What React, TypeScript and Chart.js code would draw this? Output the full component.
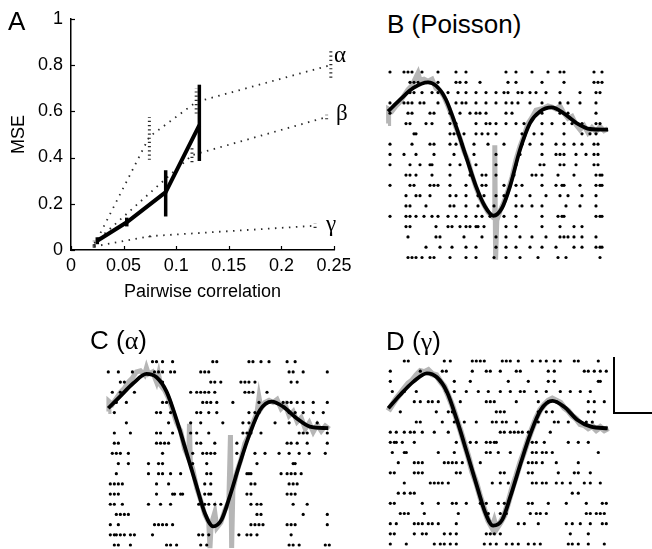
import React, { useEffect, useRef } from "react";
import { Chart, registerables } from "chart.js";
Chart.register(...registerables);
Chart.defaults.font.family = "'Liberation Sans', Arial, sans-serif";
Chart.defaults.color = "#000";

// ---------- Panel A data ----------
const corrTicks = [0, 0.05, 0.1, 0.15, 0.2, 0.25];
const mseTicks = [0, 0.2, 0.4, 0.6, 0.8, 1];
const mainX = [0.025, 0.053, 0.09, 0.122];
const mainY = [0.04, 0.12, 0.25, 0.54];
const mainLo = [0.025, 0.102, 0.145, 0.385];
const mainHi = [0.055, 0.14, 0.345, 0.715];
const alphaX = [0.022, 0.0745, 0.119, 0.247];
const alphaY = [0.02, 0.49, 0.64, 0.8];
const alphaLo = [0.015, 0.39, 0.59, 0.745];
const alphaHi = [0.03, 0.575, 0.7, 0.86];
const betaX = [0.022, 0.115, 0.243];
const betaY = [0.03, 0.41, 0.575];
const betaLo = [0.02, 0.38, 0.565];
const betaHi = [0.04, 0.44, 0.585];
const gammaX = [0.022, 0.075, 0.232];
const gammaY = [0.015, 0.06, 0.105];
const gammaLo = [0.01, 0.055, 0.095];
const gammaHi = [0.02, 0.065, 0.115];

// ---------- Raster panels (time 0..110, trial rows 1..19) ----------
const rasterB = [
  [1, 8, 10, 12, 17, 25, 34, 39, 59, 64, 72, 80, 86, 88, 103, 107],
  [11, 13, 15, 20, 25, 34, 36, 39, 46, 60, 64, 77, 88, 103, 105, 107],
  [11, 13, 17, 22, 25, 30, 35, 39, 44, 49, 54, 58, 60, 65, 67, 71, 74, 79, 86, 96, 104, 106],
  [1, 8, 10, 12, 16, 18, 25, 34, 37, 39, 44, 49, 54, 59, 62, 65, 71, 77, 86, 90, 96, 104],
  [1, 10, 12, 21, 23, 31, 36, 41, 44, 46, 49, 59, 62, 77, 86, 90, 104],
  [9, 11, 19, 22, 31, 34, 44, 49, 51, 54, 59, 64, 68, 77, 82, 88, 92, 97, 104, 106],
  [13, 14, 31, 33, 35, 38, 44, 47, 50, 54, 67, 73, 77, 88, 97, 101, 104],
  [1, 12, 21, 23, 31, 34, 37, 43, 50, 58, 67, 71, 77, 84, 88, 93, 97, 103, 105],
  [1, 8, 14, 23, 33, 43, 54, 66, 77, 84, 86, 88, 94, 99, 103, 105],
  [1, 11, 16, 21, 22, 31, 36, 44, 54, 64, 76, 78, 86, 88, 94, 103, 105],
  [9, 11, 14, 22, 31, 41, 47, 49, 54, 63, 72, 74, 77, 85, 93, 104, 106, 107],
  [1, 11, 13, 21, 23, 25, 31, 39, 47, 49, 58, 64, 67, 77, 84, 87, 88, 96, 104, 106, 107],
  [9, 14, 16, 21, 31, 34, 39, 45, 48, 54, 58, 64, 71, 79, 86, 90, 97, 104],
  [9, 11, 19, 31, 33, 39, 45, 53, 64, 67, 72, 77, 89, 96, 104],
  [1, 9, 11, 14, 18, 22, 25, 30, 34, 39, 44, 47, 51, 58, 64, 77, 85, 87, 88, 104, 106, 107],
  [9, 11, 24, 30, 32, 36, 39, 41, 44, 45, 48, 59, 64, 77, 86, 93, 97],
  [10, 24, 26, 38, 47, 54, 59, 66, 72, 79, 86, 88, 90, 93, 97, 104],
  [19, 26, 32, 39, 44, 54, 59, 64, 71, 77, 84, 93, 97, 104, 106, 107],
  [10, 12, 14, 17, 21, 23, 31, 39, 44, 53, 59, 66, 75, 85, 89, 106],
];
const rasterC = [
  [22, 24, 27, 32, 52, 54, 70, 72, 76, 80, 89, 93],
  [0, 5, 12, 23, 25, 27, 31, 33, 46, 48, 50, 90, 92, 97, 109],
  [6, 8, 27, 51, 53, 56, 66, 68, 70, 73, 91, 94],
  [2, 6, 13, 41, 44, 46, 48, 50, 53, 68, 70, 72, 79],
  [4, 9, 27, 29, 31, 47, 49, 51, 54, 62, 75, 87, 89, 91, 94, 97, 102, 109],
  [3, 24, 26, 31, 44, 46, 50, 54, 70, 73, 75, 90, 93, 97, 102, 107],
  [9, 30, 41, 46, 57, 67, 70, 83, 90, 104],
  [3, 11, 24, 26, 32, 41, 44, 50, 67, 69, 71, 76, 95, 97, 99, 109],
  [3, 5, 24, 26, 28, 30, 44, 46, 53, 64, 89, 91, 94, 99, 109],
  [2, 4, 6, 10, 27, 42, 47, 49, 51, 53, 64, 73, 78, 85, 90, 95, 100, 108],
  [5, 10, 20, 25, 27, 42, 49, 74, 92, 93],
  [4, 20, 25, 27, 31, 36, 49, 51, 69, 70, 71, 86, 89, 91, 93, 96],
  [1, 3, 5, 7, 24, 30, 48, 51, 71, 73, 90, 92, 94],
  [1, 3, 5, 24, 32, 33, 36, 37, 48, 50, 51, 69, 71, 89, 91, 93],
  [1, 3, 7, 20, 26, 31, 45, 48, 50, 53, 56, 71, 74, 76, 92, 99],
  [4, 6, 8, 10, 74, 76, 97, 109],
  [1, 5, 23, 25, 27, 29, 32, 71, 73, 75, 77, 89, 91, 93, 109],
  [1, 3, 4, 6, 8, 11, 13, 22, 45, 47, 50, 65, 69, 71, 74, 91],
  [3, 5, 11, 29, 31, 34, 46, 49, 90, 92, 95, 108, 110],
];
const rasterD = [
  [8, 10, 28, 31, 42, 44, 46, 48, 57, 59, 61, 65, 72, 76, 79, 83, 86, 93, 95, 105],
  [1, 16, 27, 29, 42, 49, 51, 56, 64, 66, 80, 83, 98, 100, 103, 106, 109],
  [1, 33, 41, 60, 70, 80, 83, 105, 106],
  [2, 8, 14, 29, 33, 39, 45, 50, 56, 61, 66, 68, 74, 79, 86, 91, 96, 101],
  [13, 16, 20, 22, 25, 36, 49, 51, 53, 64, 75, 80, 84, 100, 103, 108],
  [6, 24, 30, 32, 54, 56, 58, 75, 79, 82, 100, 103],
  [14, 16, 27, 33, 38, 44, 52, 54, 57, 59, 64, 75, 83, 85, 90, 99, 102],
  [1, 4, 8, 11, 13, 17, 23, 30, 56, 58, 61, 63, 65, 67, 70, 81],
  [1, 3, 4, 7, 13, 34, 41, 44, 49, 51, 53, 54, 72, 74, 78, 90, 95, 100],
  [2, 8, 9, 25, 33, 49, 51, 55, 61, 72, 74, 77, 79, 82, 105],
  [5, 13, 15, 17, 28, 30, 32, 34, 37, 46, 70, 72, 74, 77, 84, 95],
  [1, 3, 13, 15, 17, 34, 36, 56, 58, 70, 72, 85, 93, 95, 101],
  [8, 21, 23, 25, 27, 30, 52, 56, 60, 72, 74, 77, 79, 84, 87, 91, 98, 101, 106],
  [5, 8, 11, 13, 92, 95],
  [1, 3, 17, 25, 32, 34, 39, 46, 49, 55, 58, 70, 72, 80, 89, 99, 107, 109],
  [6, 8, 10, 18, 35, 50, 56, 59, 71, 74, 76, 79, 99, 101, 104, 106, 108],
  [1, 4, 13, 15, 17, 20, 22, 25, 34, 65, 68, 75, 89, 92, 96, 101, 107, 109],
  [1, 3, 13, 17, 19, 28, 31, 34, 49, 51, 53, 56, 91, 100],
  [1, 9, 23, 26, 28, 31, 34, 48, 51, 54, 59, 62, 65, 70, 73, 76, 90, 92, 95, 100, 108],
];

// fitted rate curves (black)
const curveBT = [0, 6, 12.7, 20, 24, 29, 34, 39, 44, 48.5, 52.7, 57, 61, 66, 71, 76, 81.8, 87.7, 94.3, 101, 110];
const curveBY = [4.83, 3.69, 2.55, 2.0, 2.33, 3.69, 6.28, 9.19, 12.1, 14.05, 14.95, 14.2, 12.1, 8.54, 5.95, 4.83, 4.44, 4.98, 5.95, 6.53, 6.6];
const curveCT = [0, 5.8, 12.4, 19, 24, 29, 34, 39, 44, 48, 52.2, 56.4, 60.5, 65.5, 70.5, 75.5, 81.3, 87, 93.7, 100.3, 109.5];
const curveCY = [5.57, 4.43, 3.12, 2.2, 2.53, 3.94, 6.72, 9.98, 13.25, 15.86, 17.17, 16.5, 14.2, 10.96, 8.02, 5.74, 4.92, 5.41, 6.55, 7.37, 7.53];
const curveDT = [0, 5.9, 12.6, 19.3, 24.3, 29.3, 34.3, 39.4, 44.4, 48.6, 52.4, 57, 61.1, 66.2, 71.2, 76.2, 82.1, 87.9, 94.6, 101.3, 109.7];
const curveDY = [5.65, 4.34, 3.03, 2.21, 2.6, 4.02, 6.8, 10.08, 13.36, 15.98, 17.2, 16.6, 14.3, 11.06, 8.1, 5.82, 4.93, 5.5, 6.8, 7.46, 7.62];

// estimated rates (gray)
const grayBT = [0, 0.3, 2, 4, 6, 8, 10, 12, 14, 15, 16, 18, 20, 22, 24, 26, 28, 30, 32, 34, 36, 38, 40, 42, 44, 46, 48, 50, 52, 53, 53.4, 53.8, 54.4, 56, 58, 60, 62, 64, 66, 68, 70, 72, 74, 76, 78, 80, 82, 84, 86, 88, 90, 92, 94, 96, 98, 100, 102, 104, 106, 108, 110];
const grayBY = [6.0, 4.6, 4.8, 4.3, 3.9, 3.3, 2.7, 2.3, 1.5, 1.1, 1.8, 1.7, 1.9, 1.7, 2.6, 2.8, 3.4, 4.3, 5.3, 6.4, 7.4, 8.7, 9.6, 11.0, 12.2, 13.2, 13.9, 14.6, 15.0, 14.7, 8.1, 19.2, 15.4, 14.5, 13.6, 12.5, 11.2, 9.5, 8.2, 7.2, 6.0, 5.4, 4.7, 4.6, 4.5, 4.3, 4.4, 4.6, 4.3, 5.0, 5.5, 5.3, 6.1, 6.6, 6.2, 6.9, 6.4, 6.8, 6.3, 6.7, 6.5];
const grayCT = [0, 0.3, 2, 4, 6, 8, 10, 12, 14, 16, 18, 19, 20, 22, 24, 25, 26, 28, 30, 32, 34, 36, 38, 40, 40.4, 40.8, 42, 44, 46, 48, 50, 50.6, 51.2, 53, 54, 56, 58, 60, 60.8, 61.4, 62, 64, 66, 68, 70, 72, 74, 75, 76, 78, 80, 82, 84, 86, 88, 90, 92, 94, 96, 98, 100, 102, 104, 106, 108, 110];
const grayCY = [5.9, 4.9, 5.2, 4.6, 4.0, 3.6, 3.0, 2.6, 2.0, 1.9, 2.3, 1.6, 2.2, 2.0, 3.0, 2.2, 3.3, 3.8, 4.6, 5.8, 7.0, 7.8, 9.6, 10.5, 7.1, 10.8, 11.5, 13.4, 14.6, 16.0, 16.8, 19.3, 17.0, 15.8, 17.3, 16.8, 15.6, 14.7, 8.2, 19.3, 13.6, 11.8, 10.6, 9.0, 8.2, 7.0, 6.0, 4.5, 5.6, 5.0, 4.8, 5.0, 4.7, 5.6, 5.2, 6.3, 5.9, 6.9, 6.5, 7.6, 7.0, 7.9, 7.2, 7.8, 7.3, 7.6];
const grayDT = [0, 2, 4, 6, 8, 10, 12, 14, 16, 18, 20, 22, 24, 26, 28, 30, 32, 34, 36, 38, 40, 42, 44, 46, 48, 50, 52, 53, 54, 56, 58, 60, 62, 64, 66, 68, 70, 72, 74, 76, 78, 80, 82, 84, 86, 88, 90, 92, 94, 96, 98, 100, 102, 104, 106, 108, 110];
const grayDY = [5.9, 5.3, 4.7, 4.2, 3.7, 3.2, 2.9, 2.4, 2.0, 2.1, 1.9, 2.3, 2.4, 3.0, 3.5, 4.4, 5.4, 6.6, 7.8, 9.1, 10.4, 11.9, 13.0, 14.4, 15.6, 16.7, 17.4, 16.8, 17.5, 16.9, 16.2, 14.9, 13.5, 12.3, 11.0, 9.9, 8.7, 7.6, 6.6, 5.8, 5.3, 4.9, 4.7, 4.9, 5.1, 5.6, 5.9, 6.4, 6.7, 7.2, 7.3, 7.6, 7.4, 7.8, 7.5, 7.8, 7.6];

const FONT = "'Liberation Sans', Arial, sans-serif";
const SERIF = "'Liberation Serif', 'Times New Roman', serif";

const pts = (xs: number[], ys: number[]) => xs.map((x, i) => ({ x, y: ys[i] }));

const inwardTicks = {
  id: "inwardTicks",
  afterDraw(chart: any) {
    const { ctx, chartArea, scales } = chart;
    ctx.save();
    ctx.strokeStyle = "#000";
    ctx.lineWidth = 1.2;
    scales.x.ticks.forEach((t: any) => {
      const px = Math.round(scales.x.getPixelForValue(t.value)) + 0.5;
      ctx.beginPath();
      ctx.moveTo(px, chartArea.bottom);
      ctx.lineTo(px, chartArea.bottom - 4);
      ctx.stroke();
    });
    scales.y.ticks.forEach((t: any) => {
      const py = Math.round(scales.y.getPixelForValue(t.value)) + 0.5;
      ctx.beginPath();
      ctx.moveTo(chartArea.left, py);
      ctx.lineTo(chartArea.left + 4, py);
      ctx.stroke();
    });
    ctx.restore();
  },
};

function errBars(xs: number[], lo: number[], hi: number[], style: any) {
  return xs.map((x, i) => ({
    type: "line",
    data: [{ x, y: lo[i] }, { x, y: hi[i] }],
    pointRadius: 0,
    clip: false,
    ...style,
  }));
}

function makeA() {
  const dotted = { borderColor: "#2a2a2a", borderWidth: 1.8, borderDash: [1.5, 5.5], tension: 0 };
  const dottedErr = { borderColor: "#2a2a2a", borderWidth: 3, borderDash: [1.2, 3] };
  const solid = { borderColor: "#000", borderWidth: 4, tension: 0 };
  return {
    type: "line",
    data: {
      datasets: [
        { data: pts(mainX, mainY), pointRadius: 0, clip: false, ...solid },
        ...errBars(mainX, mainLo, mainHi, { borderColor: "#000", borderWidth: 3.5 }),
        { data: pts(alphaX, alphaY), pointRadius: 0, clip: false, ...dotted },
        ...errBars(alphaX, alphaLo, alphaHi, dottedErr),
        { data: pts(betaX, betaY), pointRadius: 0, clip: false, ...dotted },
        ...errBars(betaX, betaLo, betaHi, dottedErr),
        { data: pts(gammaX, gammaY), pointRadius: 0, clip: false, ...dotted },
        ...errBars(gammaX, gammaLo, gammaHi, dottedErr),
      ],
    },
    options: {
      animation: false,
      responsive: false,
      events: [],
      layout: { padding: { top: 15, right: 26, left: 0, bottom: 0 } },
      plugins: { legend: { display: false }, tooltip: { enabled: false } },
      scales: {
        x: {
          type: "linear",
          min: 0,
          max: 0.25,
          grid: { display: false, drawTicks: false },
          border: { display: true, color: "#000", width: 1.5 },
          ticks: { font: { size: 18, family: FONT }, color: "#000", padding: 5, autoSkip: false, maxRotation: 0, callback: (v: any) => String(v) },
          afterBuildTicks: (s: any) => { s.ticks = corrTicks.map((v) => ({ value: v })); },
          afterFit: (s: any) => { s.height = 60; },
          title: { display: true, text: "Pairwise correlation", font: { size: 18, family: FONT }, color: "#000", padding: { top: 0, bottom: 7 } },
        },
        y: {
          type: "linear",
          min: 0,
          max: 1,
          grid: { display: false, drawTicks: false },
          border: { display: true, color: "#000", width: 1.5 },
          ticks: { font: { size: 18, family: FONT }, color: "#000", padding: 8, autoSkip: false, callback: (v: any) => String(v) },
          afterBuildTicks: (s: any) => { s.ticks = mseTicks.map((v) => ({ value: v })); },
          afterFit: (s: any) => { s.width = 71; },
          title: { display: true, text: "MSE", font: { size: 18, family: FONT }, color: "#000", padding: { top: 8, bottom: 0 } },
        },
      },
    },
    plugins: [inwardTicks],
  };
}

function makeRaster(rows: number[][], cT: number[], cY: number[], gT: number[], gY: number[], pad: any, grayWidth: number) {
  const dots = rows.flatMap((r, i) => r.map((t) => ({ x: t, y: i + 1 })));
  return {
    type: "scatter",
    data: {
      datasets: [
        { type: "line", data: pts(cT, cY), borderColor: "#000", borderWidth: 3.8, pointRadius: 0, cubicInterpolationMode: "monotone", order: 0, clip: false },
        { type: "scatter", data: dots, pointRadius: 1.6, backgroundColor: "#000", borderWidth: 0, order: 1, clip: false },
        { type: "line", data: pts(gT, gY), borderColor: "#b6b6b6", borderWidth: grayWidth, pointRadius: 0, tension: 0, order: 2, clip: false },
      ],
    },
    options: {
      animation: false,
      responsive: false,
      events: [],
      layout: { padding: pad },
      plugins: { legend: { display: false }, tooltip: { enabled: false } },
      scales: {
        x: { type: "linear", display: false, min: 0, max: 110 },
        y: { type: "linear", display: false, min: 1, max: 19, reverse: true },
      },
    },
  };
}

function ChartCanvas({ make, left, top, width, height }: any) {
  const ref = useRef<HTMLCanvasElement>(null);
  useEffect(() => {
    const chart = new Chart(ref.current as HTMLCanvasElement, make());
    return () => chart.destroy();
  }, []);
  return <canvas ref={ref} width={width} height={height} style={{ position: "absolute", left, top, width, height }} />;
}

function Text({ left, top, size, family, children }: any) {
  return (
    <div style={{ position: "absolute", left, top, fontSize: size, fontFamily: family || FONT, lineHeight: 1, whiteSpace: "nowrap", color: "#000" }}>
      {children}
    </div>
  );
}

export default function App() {
  return (
    <div style={{ position: "fixed", left: 0, top: 0, width: 652, height: 549, overflow: "hidden", background: "#fff" }}>
      <ChartCanvas make={makeA} left={0} top={0} width={360} height={310} />
      <ChartCanvas make={() => makeRaster(rasterB, curveBT, curveBY, grayBT, grayBY, { left: 10, top: 10, right: 10, bottom: 10.5 }, 5)} left={378} top={62} width={240} height={206} />
      <ChartCanvas make={() => makeRaster(rasterC, curveCT, curveCY, grayCT, grayCY, { left: 10.3, top: 10.7, right: 9.7, bottom: 3.7 }, 5)} left={98} top={351} width={241} height={198} />
      <ChartCanvas make={() => makeRaster(rasterD, curveDT, curveDY, grayDT, grayDY, { left: 10.3, top: 10, right: 9.7, bottom: 5 }, 6)} left={378} top={351} width={240} height={198} />

      <Text left={8} top={8} size={26}>A</Text>
      <Text left={334} top={43} size={23} family={SERIF}>α</Text>
      <Text left={336} top={101} size={23} family={SERIF}>β</Text>
      <Text left={326} top={212} size={23} family={SERIF}>γ</Text>

      <Text left={387} top={11} size={26}>B (Poisson)</Text>
      <Text left={90} top={326.5} size={26}>C (<span style={{ fontFamily: SERIF }}>α</span>)</Text>
      <Text left={386} top={328} size={26}>D (<span style={{ fontFamily: SERIF }}>γ</span>)</Text>

      <div style={{ position: "absolute", left: 613, top: 357, width: 40, height: 55, borderLeft: "2px solid #000", borderBottom: "2px solid #000" }} />
    </div>
  );
}
